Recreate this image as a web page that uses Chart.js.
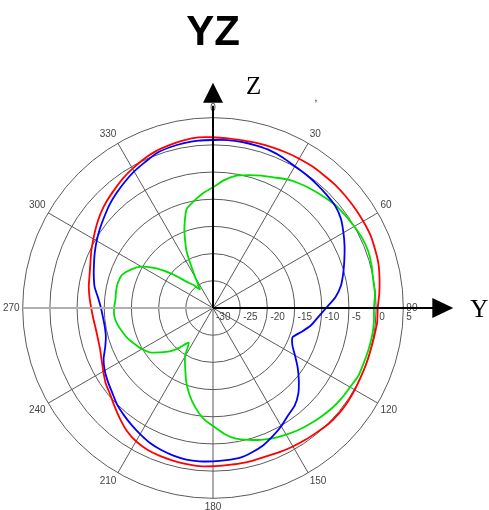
<!DOCTYPE html>
<html>
<head>
<meta charset="UTF-8">
<title>YZ</title>
<script src="https://cdn.jsdelivr.net/npm/chart.js"></script>
<style>
  html, body { margin: 0; padding: 0; background: #fff; overflow: hidden; }
  #wrap { position: absolute; left: -12px; top: 0; width: 510px; height: 530px; }
</style>
</head>
<body>
<div id="wrap"><canvas id="myChart"></canvas></div>
<script>
// angles every 5 degrees, clockwise from top (Z)
var angles = [];
for (var a = 0; a < 360; a += 5) angles.push(String(a));

var tickValues = [-30, -25, -20, -15, -10, -5, 0, 5];

// dB values, 0..355 step 5
var redLine = [
  1.4, 1.3, 1.3, 1.4, 1.5, 1.6, 1.7, 1.8, 1.8, 1.9, 1.9, 1.9,
  1.9, 1.9, 1.7, 1.5, 1.1, 0.7, 0.3, 0.3, 0.1, 0.0, 0.0, 0.0,
  0.1, 0.2, 0.2, 0.1, -0.2, -0.4, -0.6, -0.8, -1.0, -1.0, -1.0, -1.0,
  -0.9, -0.8, -0.9, -1.0, -1.1, -1.3, -1.7, -2.4, -3.4, -4.4, -5.3, -5.9,
  -6.7, -7.4, -7.9, -8.1, -8.1, -7.9, -7.6, -7.2, -6.8, -6.5, -6.0, -5.3,
  -4.6, -3.8, -3.0, -2.3, -1.7, -1.0, -0.4, 0.2, 0.7, 1.0, 1.3, 1.5
];
var blueLine = [
  0.9, 1.0, 1.0, 0.9, 0.8, 0.5, 0.1, -0.1, -0.3, -0.5, -0.7, -1.3,
  -2.3, -3.3, -4.3, -5.2, -6.1, -7.4, -9.2, -10.6, -11.7, -13.1, -14.4, -13.9,
  -12.6, -11.0, -9.4, -7.8, -6.6, -5.9, -4.9, -4.0, -3.1, -2.5, -2.0, -1.9,
  -1.8, -1.7, -1.7, -1.9, -2.2, -2.6, -3.2, -3.8, -4.4, -5.0, -5.8, -6.4,
  -7.0, -7.8, -8.9, -9.6, -9.8, -9.7, -9.4, -8.8, -7.9, -7.3, -6.7, -6.0,
  -5.3, -4.6, -3.9, -3.1, -2.4, -1.7, -1.0, -0.4, 0.3, 0.6, 0.8, 0.9
];
var greenLine = [
  -7.8, -6.4, -5.3, -4.7, -4.1, -3.5, -2.7, -2.1, -1.6, -1.1, -0.6, -0.3,
  0.0, 0.3, 0.4, 0.2, -0.1, -0.1, -0.4, -0.3, -0.3, -0.4, -0.5, -0.5,
  -0.9, -1.1, -1.4, -1.8, -2.2, -2.6, -3.1, -3.6, -4.2, -4.9, -5.6, -6.8,
  -8.3, -9.6, -11.4, -13.4, -15.6, -17.9, -19.7, -22.2, -20.5, -18.7, -17.3, -15.8,
  -14.9, -14.2, -13.4, -12.8, -12.2, -11.8, -11.8, -12.0, -11.9, -11.9, -12.2, -13.3,
  -14.8, -17.3, -20.3, -23.2, -24.5, -25.8, -23.4, -18.5, -14.6, -11.2, -10.0, -8.8
];

var extras = {
  id: 'extras',
  afterDraw: function(chart) {
    var ctx = chart.ctx;
    var s = chart.scales.r;
    var cx = s.xCenter, cy = s.yCenter, R = s.drawingArea;
    ctx.save();

    // gray left half of the horizontal axis
    ctx.strokeStyle = '#b0b0b0';
    ctx.lineWidth = 2;
    ctx.beginPath();
    ctx.moveTo(cx - R, cy);
    ctx.lineTo(cx, cy);
    ctx.stroke();

    // tick labels along the Y direction
    ctx.fillStyle = '#444';
    ctx.font = '10px "Liberation Sans"';
    ctx.textAlign = 'left';
    ctx.textBaseline = 'top';
    tickValues.forEach(function(v) {
      var d = s.getDistanceFromCenterForValue(v);
      ctx.fillText(String(v), cx + d + 3, cy + 4);
    });

    // Z and Y axes with arrows
    ctx.strokeStyle = '#000';
    ctx.fillStyle = '#000';
    ctx.lineWidth = 2;
    ctx.beginPath();
    ctx.moveTo(cx, cy);
    ctx.lineTo(cx, cy - R - 12);
    ctx.moveTo(cx, cy);
    ctx.lineTo(cx + R + 30, cy);
    ctx.stroke();
    ctx.beginPath();
    ctx.moveTo(cx, cy - R - 35);
    ctx.lineTo(cx - 10, cy - R - 15);
    ctx.lineTo(cx + 10, cy - R - 15);
    ctx.closePath();
    ctx.fill();
    ctx.beginPath();
    ctx.moveTo(cx + R + 50, cy);
    ctx.lineTo(cx + R + 29, cy - 10);
    ctx.lineTo(cx + R + 29, cy + 10);
    ctx.closePath();
    ctx.fill();

    ctx.font = '25px "Liberation Serif"';
    ctx.textAlign = 'left';
    ctx.textBaseline = 'alphabetic';
    ctx.fillText('Z', cx + 33, cy - R - 24);
    ctx.fillText('Y', cx + R + 67, cy + 9);

    ctx.font = 'bold 42px "Liberation Sans"';
    ctx.textAlign = 'center';
    ctx.fillText('YZ', cx, 45);

    ctx.font = '10px "Liberation Sans"';
    ctx.fillText(',', cx + 103, cy - R + 5 - 22);
    ctx.restore();
  }
};

var ctx = document.getElementById('myChart').getContext('2d');
var myChart = new Chart(ctx, {
  type: 'radar',
  data: {
    labels: angles,
    datasets: [
      { label: 'red', data: redLine, borderColor: '#ff0000' },
      { label: 'blue', data: blueLine, borderColor: '#0000ff' },
      { label: 'green', data: greenLine, borderColor: '#00e000' }
    ]
  },
  options: {
    responsive: true,
    maintainAspectRatio: false,
    animation: false,
    layout: { padding: { left: 13, right: 77, top: 98, bottom: 12 } },
    elements: {
      line: { borderWidth: 1.8, fill: false, tension: 0.2 },
      point: { radius: 0 }
    },
    plugins: { legend: { display: false }, tooltip: { enabled: false } },
    scales: {
      r: {
        min: -30,
        max: 5,
        ticks: { stepSize: 5, display: false },
        grid: { circular: true, color: '#5a5a5a', lineWidth: 1 },
        angleLines: {
          color: '#5a5a5a',
          lineWidth: function(c) { return c.index % 6 === 0 ? 1 : 0; }
        },
        pointLabels: {
          color: '#444',
          padding: 3,
          font: { family: '"Liberation Sans"', size: 10 },
          callback: function(label, i) { return i % 6 === 0 ? label : ''; }
        }
      }
    }
  },
  plugins: [extras]
});
</script>
</body>
</html>
